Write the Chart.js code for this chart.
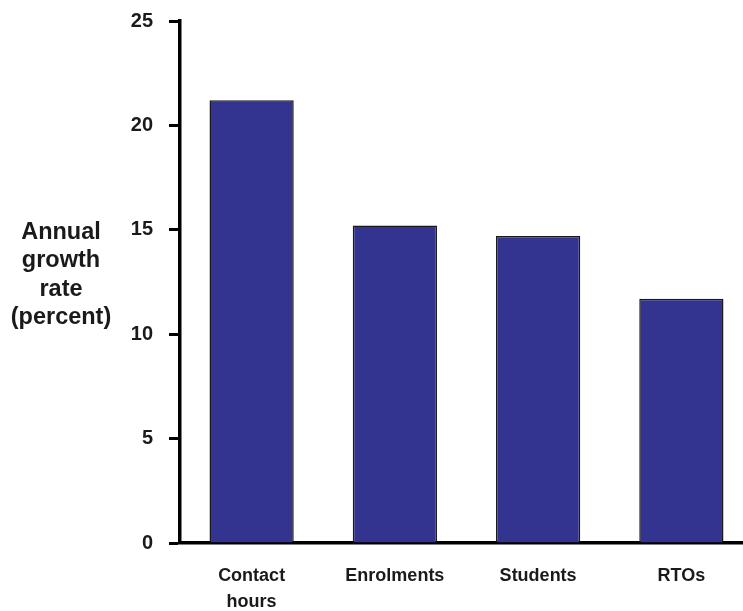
<!DOCTYPE html>
<html>
<head>
<meta charset="utf-8">
<script src="https://cdn.jsdelivr.net/npm/chart.js@4"></script>
<style>
  html, body { margin: 0; padding: 0; background: #fff; overflow: hidden; }
  #wrap { position: relative; width: 753px; height: 611px; }
</style>
</head>
<body>
<div id="wrap"><canvas id="growth-chart"></canvas></div>
<script>
const categories = [
  ['Contact', 'hours'],
  'Enrolments',
  'Students',
  'RTOs'
];

const growthRates = [21.2, 15.2, 14.7, 11.7];

const yTicks = [0, 5, 10, 15, 20, 25];

const yTitle = ['Annual', 'growth', 'rate', '(percent)'];

const barColor = 'rgb(50, 52, 143)';
const inkColor = '#1a1a1a';

// horizontal y-axis title drawn left of the tick labels
const sideTitle = {
  id: 'sideTitle',
  afterDraw(chart) {
    const ctx = chart.ctx;
    const area = chart.chartArea;
    const lineH = 28.5;
    const cx = area.left - 119;
    const mid = chart.scales.y.getPixelForValue(12.5) - 7;
    const y0 = mid - lineH * (yTitle.length - 1) / 2;
    ctx.save();
    ctx.font = 'bold 23.5px "Liberation Sans", Arial, sans-serif';
    ctx.fillStyle = inkColor;
    ctx.textAlign = 'center';
    ctx.textBaseline = 'middle';
    yTitle.forEach((t, i) => ctx.fillText(t, cx, y0 + i * lineH));
    ctx.restore();
  }
};

const data = {
  labels: categories,
  datasets: [{
    data: growthRates,
    backgroundColor: barColor,
    borderColor: '#1a1a1a',
    borderWidth: 1.5,
    categoryPercentage: 1,
    barPercentage: 0.588
  }]
};

const config = {
  type: 'bar',
  data: data,
  plugins: [sideTitle],
  options: {
    responsive: true,
    maintainAspectRatio: false,
    animation: false,
    layout: {
      padding: { top: 21, left: 0, right: 0, bottom: 0 }
    },
    plugins: {
      legend: { display: false },
      tooltip: { enabled: false }
    },
    scales: {
      x: {
        afterFit(scale) {
          scale.height = 68;
          scale.paddingLeft = 0;
          scale.paddingRight = 0;
        },
        grid: {
          drawOnChartArea: false,
          drawTicks: false
        },
        border: {
          display: true,
          color: '#000',
          width: 3.5
        },
        ticks: {
          color: inkColor,
          padding: 20,
          maxRotation: 0,
          autoSkip: false,
          font: { size: 18, weight: 'bold', lineHeight: 1.45 }
        }
      },
      y: {
        min: 0,
        max: 25,
        afterFit(scale) {
          scale.width = 180;
          scale.paddingTop = 0;
          scale.paddingBottom = 0;
        },
        afterBuildTicks(scale) {
          scale.ticks = yTicks.map(v => ({ value: v }));
        },
        grid: {
          drawOnChartArea: false,
          drawTicks: true,
          tickLength: 11,
          tickWidth: 3,
          tickColor: '#000'
        },
        border: {
          display: true,
          color: '#000',
          width: 3.5
        },
        ticks: {
          color: inkColor,
          padding: 16,
          font: { size: 20, weight: 'bold' }
        }
      }
    }
  }
};

Chart.defaults.font.family = "'Liberation Sans', Arial, Helvetica, sans-serif";

const growthChart = new Chart(
  document.getElementById('growth-chart'),
  config
);
</script>
</body>
</html>
